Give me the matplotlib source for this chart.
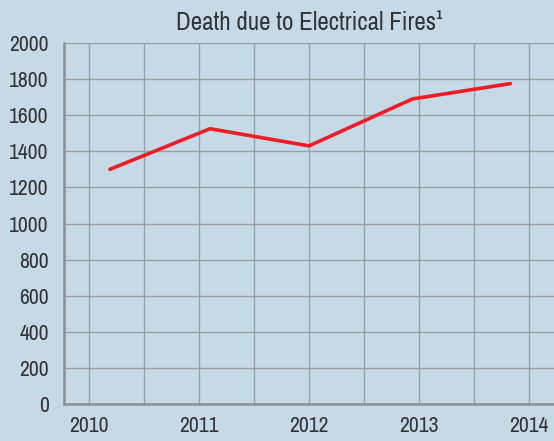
import matplotlib.pyplot as plt
from matplotlib import font_manager
import numpy as np

# deaths per year, positioned along a continuous year axis
years = [2010.19, 2011.1, 2012.0, 2012.94, 2013.83]
deaths = [1300, 1525, 1430, 1690, 1775]
year_ticks = [2010, 2011, 2012, 2013, 2014]
death_ticks = list(range(0, 2001, 200))

# prefer a narrow face if one is around
fonts = font_manager.fontManager.ttflist
narrow = [f for f in fonts if "Narrow" in f.name or "Condensed" in f.name]
if narrow:
    plt.rcParams["font.family"] = [narrow[0].name, "DejaVu Sans"]
else:
    plt.rcParams["font.family"] = ["DejaVu Sans"]
    plt.rcParams["font.stretch"] = "condensed"

bg = "#c6d9e7"
text_col = "#333333"
grid_col = "#9b9fa3"

fig = plt.figure(figsize=(5.54, 4.41), dpi=100, facecolor=bg)
ax = fig.add_axes([64 / 554, 1 - 404 / 441, 1 - 64 / 554, (404 - 43) / 441])
ax.set_facecolor(bg)

ax.plot(years, deaths, color="#ee1c25", lw=2.6, solid_capstyle="round", zorder=3)

ax.set_xlim(2009.773, 2014.227)
ax.set_ylim(0, 2000)
ax.set_xticks(year_ticks)
ax.set_xticks(np.arange(2010.5, 2014, 1.0), minor=True)
ax.set_yticks(death_ticks)
ax.grid(True, which="both", axis="x", color=grid_col, lw=1.0)
ax.grid(True, axis="y", color=grid_col, lw=1.0)
ax.set_axisbelow(True)

ax.tick_params(axis="both", which="both", length=0, labelsize=15.5, colors=text_col)
ax.tick_params(axis="y", pad=11)
ax.tick_params(axis="x", pad=9)

for side in ["top", "right"]:
    ax.spines[side].set_visible(False)
for side in ["left", "bottom"]:
    ax.spines[side].set_color("#8c9094")
    ax.spines[side].set_linewidth(1.8)

ax.set_title("Death due to Electrical Fires¹", fontsize=18, color=text_col, pad=9)

fig.savefig("out.png", dpi=100, facecolor=bg)
